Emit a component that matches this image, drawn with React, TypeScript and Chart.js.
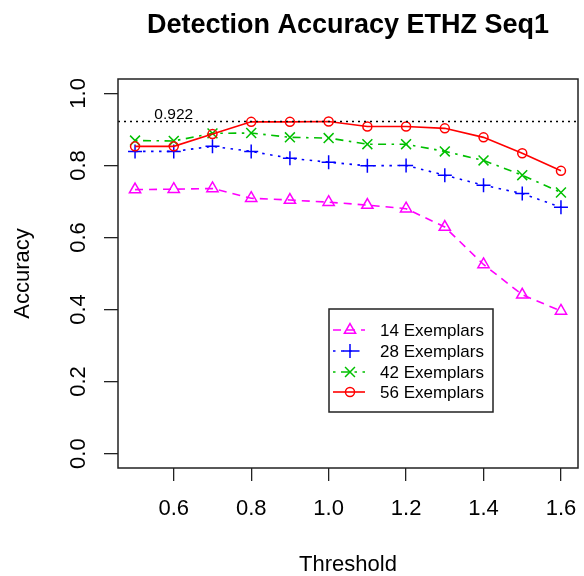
import React, { useEffect, useRef } from "react";
import { Chart, registerables } from "chart.js";

Chart.register(...registerables);

const thresholds = [0.5, 0.6, 0.7, 0.8, 0.9, 1.0, 1.1, 1.2, 1.3, 1.4, 1.5, 1.6];
const acc14 = [0.733, 0.734, 0.736, 0.709, 0.704, 0.698, 0.690, 0.680, 0.629, 0.525, 0.441, 0.396];
const acc28 = [0.839, 0.839, 0.853, 0.839, 0.820, 0.809, 0.799, 0.800, 0.773, 0.745, 0.722, 0.684];
const acc42 = [0.869, 0.868, 0.889, 0.890, 0.878, 0.876, 0.859, 0.859, 0.839, 0.814, 0.773, 0.725];
const acc56 = [0.853, 0.853, 0.887, 0.921, 0.921, 0.922, 0.908, 0.908, 0.903, 0.878, 0.834, 0.785];
const seriesLabels = ["14 Exemplars", "28 Exemplars", "42 Exemplars", "56 Exemplars"];
const xTicks = [0.6, 0.8, 1.0, 1.2, 1.4, 1.6];
const yTicks = [0.0, 0.2, 0.4, 0.6, 0.8, 1.0];
const bestValue = 0.922;
const titleText = "Detection Accuracy ETHZ Seq1";

const FONT = "'Liberation Sans', Arial, Helvetica, sans-serif";

const styles = [
  { color: "#ff00ff", dash: [8, 6], point: "triangle", radius: 6.5 },
  { color: "#0000ff", dash: [2.5, 5.5], point: "cross", radius: 7 },
  { color: "#00c000", dash: [2.5, 5.5, 8, 5.5], point: "crossRot", radius: 7 },
  { color: "#ff0000", dash: [], point: "circle", radius: 4.5 },
];

function drawMarker(ctx: CanvasRenderingContext2D, type: string, x: number, y: number, r: number) {
  ctx.beginPath();
  if (type === "circle") {
    ctx.arc(x, y, r, 0, Math.PI * 2);
  } else if (type === "triangle") {
    ctx.moveTo(x, y - r);
    ctx.lineTo(x + r * 0.866, y + r * 0.5);
    ctx.lineTo(x - r * 0.866, y + r * 0.5);
    ctx.closePath();
  } else if (type === "cross") {
    ctx.moveTo(x - r, y);
    ctx.lineTo(x + r, y);
    ctx.moveTo(x, y - r);
    ctx.lineTo(x, y + r);
  } else {
    const d = r * 0.707;
    ctx.moveTo(x - d, y - d);
    ctx.lineTo(x + d, y + d);
    ctx.moveTo(x - d, y + d);
    ctx.lineTo(x + d, y - d);
  }
  ctx.stroke();
}

const extrasPlugin = {
  id: "extras",
  afterDatasetsDraw(chart: any) {
    const { ctx, chartArea, scales } = chart;
    const y = scales.y.getPixelForValue(bestValue);
    ctx.save();
    // title centred over plot region
    ctx.fillStyle = "#000";
    ctx.font = `bold 27px ${FONT}`;
    ctx.textAlign = "center";
    ctx.textBaseline = "alphabetic";
    ctx.fillText(titleText, (chartArea.left + chartArea.right) / 2, 33);
    // reference line
    ctx.strokeStyle = "#000";
    ctx.lineWidth = 1.3;
    ctx.setLineDash([2, 4]);
    ctx.beginPath();
    ctx.moveTo(chartArea.left, y);
    ctx.lineTo(chartArea.right, y);
    ctx.stroke();
    ctx.setLineDash([]);
    ctx.font = `15.5px ${FONT}`;
    ctx.fillText(bestValue.toFixed(3), scales.x.getPixelForValue(0.6), y - 2.5);
    // box
    ctx.strokeStyle = "#222";
    ctx.lineWidth = 1.5;
    ctx.strokeRect(chartArea.left, chartArea.top, chartArea.right - chartArea.left, chartArea.bottom - chartArea.top);
    // legend
    const lx = 329, ly = 309, lw = 164, lh = 103;
    ctx.fillStyle = "#fff";
    ctx.fillRect(lx, ly, lw, lh);
    ctx.strokeStyle = "#222";
    ctx.lineWidth = 1.5;
    ctx.strokeRect(lx, ly, lw, lh);
    const rows = [330, 351, 372, 392];
    seriesLabels.forEach((lab, i) => {
      const st = styles[i];
      const ry = rows[i];
      ctx.strokeStyle = st.color;
      ctx.lineWidth = 1.6;
      ctx.setLineDash(st.dash);
      ctx.beginPath();
      ctx.moveTo(lx + 4, ry);
      ctx.lineTo(lx + 36, ry);
      ctx.stroke();
      ctx.setLineDash([]);
      ctx.lineWidth = 1.5;
      drawMarker(ctx, st.point, lx + 21, ry, st.radius);
      ctx.fillStyle = "#000";
      ctx.font = `17px ${FONT}`;
      ctx.textAlign = "left";
      ctx.textBaseline = "middle";
      ctx.fillText(lab, lx + 51, ry + 1);
    });
    ctx.restore();
  },
};

export default function App() {
  const ref = useRef<HTMLCanvasElement | null>(null);
  useEffect(() => {
    if (!ref.current) return;
    const all = [acc14, acc28, acc42, acc56];
    const chart = new Chart(ref.current, {
      type: "line",
      data: {
        datasets: all.map((vals, i) => ({
          label: seriesLabels[i],
          data: thresholds.map((t, j) => ({ x: t, y: vals[j] })),
          borderColor: styles[i].color,
          backgroundColor: "rgba(0,0,0,0)",
          borderWidth: 1.6,
          borderDash: styles[i].dash,
          pointStyle: styles[i].point as any,
          pointRadius: styles[i].radius,
          pointBorderWidth: 1.5,
          pointBorderColor: styles[i].color,
          pointBackgroundColor: "rgba(0,0,0,0)",
          tension: 0,
          fill: false,
          order: 3 - i,
        })),
      },
      options: {
        animation: false,
        responsive: false,
        events: [],
        layout: { autoPadding: false, padding: { left: 0, right: 6, top: 79, bottom: 0 } },
        plugins: {
          legend: { display: false },
          tooltip: { enabled: false },
          title: { display: false },
        },
        scales: {
          x: {
            type: "linear",
            min: 0.456,
            max: 1.644,
            afterBuildTicks: (s: any) => {
              s.ticks = xTicks.map((v) => ({ value: v }));
            },
            afterFit: (s: any) => {
              s.height = 108;
              s.paddingLeft = 0;
              s.paddingRight = 0;
            },
            grid: { drawOnChartArea: false, drawTicks: true, tickLength: 13, color: "#222", lineWidth: 1.3 },
            border: { display: false },
            ticks: {
              color: "#000",
              font: { family: FONT, size: 22 },
              padding: 15,
              maxRotation: 0,
              autoSkip: false,
              callback: (v: any) => Number(v).toFixed(1),
            },
            title: {
              display: true,
              text: "Threshold",
              color: "#000",
              font: { family: FONT, size: 22, lineHeight: 1.0 },
              padding: { top: 0, bottom: 0 },
            },
          },
          y: {
            type: "linear",
            min: -0.04,
            max: 1.04,
            afterBuildTicks: (s: any) => {
              s.ticks = yTicks.map((v) => ({ value: v }));
            },
            afterFit: (s: any) => {
              s.width = 118;
              s.paddingTop = 0;
              s.paddingBottom = 0;
            },
            grid: { drawOnChartArea: false, drawTicks: true, tickLength: 14, color: "#222", lineWidth: 1.3 },
            border: { display: false },
            ticks: {
              color: "#000",
              font: { family: FONT, size: 22 },
              padding: 10,
              minRotation: 90,
              maxRotation: 90,
              crossAlign: "center",
              autoSkip: false,
              callback: (v: any) => Number(v).toFixed(1),
            },
            title: {
              display: true,
              text: "Accuracy",
              color: "#000",
              font: { family: FONT, size: 22, lineHeight: 1.2 },
              padding: { top: 10, bottom: 0 },
            },
          },
        },
      },
      plugins: [extrasPlugin],
    });
    return () => chart.destroy();
  }, []);
  return (
    <div style={{ position: "fixed", left: 0, top: 0, width: 584, height: 576, background: "#fff" }}>
      <canvas ref={ref} width={584} height={576} style={{ width: 584, height: 576 }} />
    </div>
  );
}
